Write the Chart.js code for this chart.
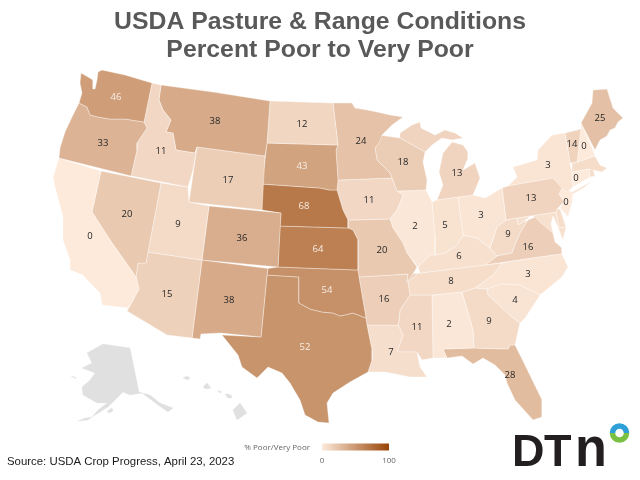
<!DOCTYPE html>
<html>
<head>
<meta charset="utf-8">
<title>USDA Pasture & Range Conditions</title>
<script src="https://cdn.jsdelivr.net/npm/chart.js@4/dist/chart.umd.min.js"></script>
<style>
    html, body { margin: 0; padding: 0; background: #ffffff; }
    canvas { display: block; }
</style>
</head>
<body>
<canvas id="mapChart" width="640" height="480"></canvas>
<script>
// Values, state by state
const states = ['WA','OR','CA','NV','ID','MT','WY','UT','AZ','CO','NM','ND','SD','NE','KS','OK','TX','MN','IA','MO','AR','LA','WI','IL','MI','IN','OH','KY','TN','MS','AL','GA','FL','SC','NC','VA','WV','PA','NY','VT','NH','ME','CT','NJ','MD','DE','MA','RI'];
const percentPoor = [46,33,0,20,11,38,17,9,15,36,38,12,43,68,64,54,52,24,11,20,16,7,18,2,13,5,3,6,8,11,2,9,28,4,3,16,9,13,3,14,0,25,0,0,6,8,8,8];
// these four are shaded on the map but carry no number
const unlabelled = ['MD','DE','MA','RI'];

const titleLines = ['USDA Pasture & Range Conditions', 'Percent Poor to Very Poor'];
const sourceText = 'Source: USDA Crop Progress, April 23, 2023';
const legendTitle = '% Poor/Very Poor';
const legendTicks = [0, 100];

// State outlines, in map units (the x and y scales below run over the same units)
const outlines = {
    WA: [[[81,73],[88,77],[93,80],[93,89],[95,89],[97,80],[98,72],[102,70],[125,75],[152,83],[144,122],[125,119],[110,119],[98,117],[90,115],[87,107],[79,103],[82,93],[80,83]]],
    OR: [[[79,103],[87,107],[90,115],[98,117],[110,119],[125,119],[144,122],[147,128],[137,143],[137,150],[131,176],[59,158],[60,148],[65,132],[72,117]]],
    CA: [[[59,158],[101,171],[92,212],[110,240],[136,277],[139,289],[132,302],[128,308],[102,305],[100,293],[90,283],[83,275],[70,270],[70,260],[63,240],[63,217],[55,187],[53,177]]],
    NV: [[[101,171],[161,183],[148,252],[146,263],[138,263],[136,277],[110,240],[92,212]]],
    ID: [[[152,83],[161,85],[159,100],[163,110],[171,120],[166,132],[173,133],[176,150],[195,153],[197,147],[193,170],[188,187],[131,176],[137,150],[137,143],[147,128],[144,122]]],
    MT: [[[161,85],[213,92],[270,101],[267,143],[265,156],[197,147],[195,153],[176,150],[173,133],[166,132],[171,120],[163,110],[159,100]]],
    WY: [[[197,147],[265,156],[262,210],[189,202]]],
    UT: [[[161,183],[188,187],[189,202],[209,206],[202,260],[148,252]]],
    AZ: [[[148,252],[202,260],[192,338],[167,335],[127,311],[132,302],[139,289],[136,277],[138,263],[146,263]]],
    CO: [[[209,206],[281,213],[278,267],[202,260]]],
    NM: [[[202,260],[268,268.5],[267,275],[261,337],[221,333],[201,334],[200,339],[192,338]]],
    ND: [[[270,101],[333,103],[338,145],[267,143]]],
    SD: [[[267,143],[338,145],[336,150],[338,180],[337,190],[330,190],[320,188],[262,184]]],
    NE: [[[262,184],[320,188],[330,190],[337,190],[343,210],[348,220],[348,228],[280,226],[281,213],[262,210]]],
    KS: [[[280,226],[348,228],[353,230],[358,240],[358,270],[278,267]]],
    OK: [[[268,268.5],[278,267],[358,270],[359,277],[366,318],[353,313],[340,316],[333,313],[322,312],[310,309],[299,303],[299,277],[267,275]]],
    TX: [[[267,275],[299,277],[299,303],[310,309],[322,312],[333,313],[340,316],[353,313],[366,318],[367,325],[372,350],[372,360],[368,372],[350,382],[333,393],[327,403],[329,423],[318,422],[305,415],[300,400],[290,383],[282,373],[268,367],[257,378],[242,367],[238,355],[222,335],[261,337]]],
    MN: [[[333,103],[352,103],[355,108],[367,110],[377,112],[390,115],[403,117],[392,125],[382,135],[379,143],[375,148],[377,160],[390,173],[392,178],[338,180],[336,150],[338,145]]],
    IA: [[[338,180],[392,178],[397,191],[403,195],[397,210],[390,219],[348,220],[343,210],[337,190]]],
    MO: [[[348,220],[390,219],[393,228],[403,243],[407,253],[417,267],[413,274],[407,282],[408,274],[359,277],[358,270],[358,240],[353,230],[348,228]]],
    AR: [[[359,277],[408,274],[407,282],[413,274],[418,273],[408,282],[410,295],[400,310],[399,320],[398,325],[367,325],[366,318]]],
    LA: [[[367,325],[398,325],[403,335],[397,352],[417,352],[420,367],[427,377],[410,377],[400,375],[385,372],[368,372],[372,360],[372,350]]],
    WI: [[[379,135],[400,138],[425,152],[423,162],[427,180],[426,190],[397,191],[392,178],[390,173],[377,160],[375,148],[379,143]]],
    IL: [[[397,191],[426,190],[432,202],[435,237],[435,255],[430,255],[420,265],[418,267],[407,253],[403,243],[393,228],[390,219],[397,210],[403,195]]],
    MI: [[[400,133],[412,125],[420,122],[421,128],[435,135],[445,130],[455,133],[463,138],[452,140],[442,138],[432,145],[425,152],[400,138]],
         [[437,200],[443,185],[439,172],[443,153],[452,142],[463,145],[468,152],[468,158],[463,170],[475,163],[480,178],[473,195],[458,197]]],
    IN: [[[432,202],[437,200],[458,197],[463,235],[457,245],[445,253],[435,255],[435,237]]],
    OH: [[[458,197],[473,195],[485,198],[502,188],[506,220],[497,227],[490,248],[477,238],[463,235]]],
    KY: [[[420,273],[418,267],[420,265],[430,255],[435,255],[445,253],[457,245],[463,235],[477,238],[490,248],[497,256],[485,265]]],
    TN: [[[413,274],[420,273],[485,265],[502,263],[493,275],[475,288],[462,292],[432,295],[410,295],[408,282],[418,273]]],
    MS: [[[410,295],[432,295],[433,358],[422,360],[417,352],[397,352],[403,335],[398,325],[399,320],[400,310]]],
    AL: [[[432,295],[462,292],[473,330],[474,348],[443,349],[447,358],[433,358]]],
    GA: [[[462,292],[475,288],[487,289],[488,295],[513,318],[520,323],[515,345],[510,345],[508,349],[474,348],[473,330]]],
    FL: [[[443,349],[474,348],[508,349],[510,345],[515,345],[525,365],[542,400],[542,417],[533,420],[515,400],[507,383],[505,375],[495,365],[483,358],[473,364],[462,356],[447,358]]],
    SC: [[[487,289],[502,284],[520,285],[540,295],[535,303],[525,318],[520,323],[513,318],[488,295]]],
    NC: [[[502,263],[533,258],[562,254],[568,267],[562,277],[540,295],[520,285],[502,284],[487,289],[475,288],[493,275]]],
    VA: [[[485,265],[497,256],[512,253],[515,245],[520,233],[528,220],[535,217],[540,222],[553,233],[555,242],[562,248],[562,254],[533,258]]],
    WV: [[[490,248],[497,227],[506,220],[517,218],[518,225],[523,222],[528,220],[520,233],[515,245],[512,253],[497,256]]],
    PA: [[[502,188],[508,186],[553,178],[562,188],[559,194],[564,202],[557,209],[556,212],[517,218],[506,220]]],
    NY: [[[508,186],[517,177],[513,167],[537,160],[538,150],[552,135],[565,133],[570,163],[572,172],[573,187],[567,192],[560,187],[553,178]],
         [[572,192],[590,182],[594,179],[585,187],[573,194]]],
    VT: [[[565,133],[581,129],[577,162],[570,163]]],
    NH: [[[581,123],[593,150],[595,156],[577,162],[581,129]]],
    ME: [[[593,90],[607,89],[613,108],[623,118],[618,122],[615,128],[610,130],[607,136],[600,140],[595,150],[581,123],[592,103]]],
    CT: [[[572,172],[589,169],[590,177],[573,187]]],
    NJ: [[[560,187],[573,192],[572,203],[568,217],[560,208],[564,202],[559,194]]],
    MD: [[[517,218],[556,212],[559,228],[566,227],[563,240],[561,235],[557,225],[553,216],[551,224],[553,233],[540,222],[532,215],[523,222],[518,225]]],
    DE: [[[556,212],[557,209],[560,209],[566,227],[559,228]]],
    MA: [[[572,163],[577,162],[595,156],[600,165],[607,168],[602,172],[593,170],[589,169],[572,172]]],
    RI: [[[589,169],[593,169],[595,176],[590,177]]]
};

// Alaska and Hawaii are on the map but have no data, so they stay grey
const insets = [
    [[87,353],[103,344],[130,348],[139,392],[150,395],[160,403],[173,408],[168,412],[158,405],[142,393],[130,395],[123,392],[115,400],[108,407],[92,417],[98,410],[107,403],[97,403],[83,395],[82,387],[90,380],[95,373],[82,368],[92,363]],
    [[78,421],[85,418],[92,417],[88,420]],
    [[107,411],[112,408],[113,411],[109,413]],
    [[71,376],[75,377],[76,379]],
    [[233,410],[240,403],[247,413],[237,420]],
    [[225,394],[228,394],[231,395],[232,398],[228,398]],
    [[217,390],[222,392],[220,393]],
    [[203,387],[207,383],[211,388],[206,389]],
    [[183,378],[187,376],[190,378],[188,380]]
];

// Label anchors in map units
const labelPositions = {
    WA: [116,97], OR: [103,143], CA: [90,236], NV: [127,214], ID: [161,151], MT: [215,121], WY: [228,180],
    UT: [178,224], AZ: [167,294], CO: [242,238], NM: [229,300], ND: [302,124], SD: [302,166], NE: [304,206],
    KS: [318,249], OK: [327,290], TX: [305,347], MN: [361,141], IA: [369,200], MO: [382,250], AR: [384,299],
    LA: [391,352], WI: [403,162], IL: [415,226], MI: [457,173], IN: [445,225], OH: [481,215], KY: [459,256],
    TN: [451,281], MS: [417,327], AL: [449,324], GA: [489,321], FL: [510,375], SC: [515,300], NC: [528,274],
    VA: [528,247], WV: [508,234], PA: [531,198], NY: [548,165], VT: [572,144], NH: [584,146], ME: [600,118],
    CT: [576,178], NJ: [566,202]
};

const lowColor = [253, 234, 219];
const highColor = [152, 68, 6];

function colorFor(value) {
    const t = value / 100;
    const rgb = lowColor.map((low, i) => Math.round(low + (highColor[i] - low) * t));
    return `rgb(${rgb[0]}, ${rgb[1]}, ${rgb[2]})`;
}

function polygonDataset(points, color, borderColor, borderWidth) {
    // repeat the first point so the outline closes
    const closed = points.concat([points[0]]);
    return {
        data: closed.map(p => ({ x: p[0], y: p[1] })),
        showLine: true,
        fill: 'shape',
        tension: 0,
        backgroundColor: color,
        borderColor: borderColor,
        borderWidth: borderWidth,
        borderJoinStyle: 'round',
        pointRadius: 0,
        pointHoverRadius: 0,
        clip: false
    };
}

const datasets = [];
insets.forEach(points => {
    datasets.push(polygonDataset(points, '#e0e0e0', '#e0e0e0', 0.3));
});
states.forEach((state, i) => {
    outlines[state].forEach(points => {
        datasets.push(polygonDataset(points, colorFor(percentPoor[i]), 'rgba(255, 255, 255, 0.5)', 0.7));
    });
});

// Numbers on the states, positioned through the chart scales
const stateLabels = {
    id: 'stateLabels',
    afterDatasetsDraw(chart) {
        const { ctx, scales } = chart;
        ctx.save();
        ctx.font = '9.5px "Open Sans"';
        ctx.textAlign = 'center';
        ctx.textBaseline = 'middle';
        states.forEach((state, i) => {
            if (unlabelled.includes(state)) return;
            const pos = labelPositions[state];
            ctx.fillStyle = percentPoor[i] >= 43 ? '#f6eee6' : '#262626';
            ctx.fillText(String(percentPoor[i]), scales.x.getPixelForValue(pos[0]), scales.y.getPixelForValue(pos[1]));
        });
        ctx.restore();
    }
};

// Colour key, source line and logo
const furniture = {
    id: 'furniture',
    afterDraw(chart) {
        const { ctx } = chart;
        ctx.save();

        const gradient = ctx.createLinearGradient(322, 0, 389, 0);
        gradient.addColorStop(0, colorFor(legendTicks[0]));
        gradient.addColorStop(1, colorFor(legendTicks[1]));
        ctx.fillStyle = gradient;
        ctx.fillRect(322, 443.5, 67, 7);

        ctx.fillStyle = '#666666';
        ctx.font = '8px "Open Sans"';
        ctx.textBaseline = 'middle';
        ctx.textAlign = 'right';
        ctx.fillText(legendTitle, 310, 447.5);
        ctx.textAlign = 'center';
        ctx.fillText(String(legendTicks[0]), 322, 460.5);
        ctx.fillText(String(legendTicks[1]), 389, 460.5);

        ctx.fillStyle = '#1a1a1a';
        ctx.font = '11.4px "Liberation Sans"';
        ctx.textAlign = 'left';
        ctx.textBaseline = 'alphabetic';
        ctx.fillText(sourceText, 7, 465);

        // DTN logo
        ctx.fillStyle = '#231f20';
        ctx.font = 'bold 45px "Liberation Sans"';
        ctx.fillText('D', 512, 465.5);
        ctx.fillText('T', 544, 465.5);
        ctx.save();
        ctx.translate(575, 465.5);
        ctx.scale(1.16, 1.24);
        ctx.fillText('n', 0, 0);
        ctx.restore();

        ctx.lineWidth = 5.5;
        ctx.strokeStyle = '#2f9fd8';
        ctx.beginPath();
        ctx.arc(619.5, 433, 7, Math.PI, 0);
        ctx.stroke();
        ctx.strokeStyle = '#7ac143';
        ctx.beginPath();
        ctx.arc(619.5, 433, 7, 0, Math.PI);
        ctx.stroke();

        ctx.restore();
    }
};

new Chart(document.getElementById('mapChart').getContext('2d'), {
    type: 'scatter',
    data: { datasets: datasets },
    plugins: [stateLabels, furniture],
    options: {
        responsive: false,
        animation: false,
        events: [],
        layout: { padding: 0 },
        plugins: {
            legend: { display: false },
            tooltip: { enabled: false },
            title: {
                display: true,
                text: titleLines,
                color: '#595959',
                font: { family: '"Liberation Sans"', size: 24.8, weight: 'bold', lineHeight: 1.13 },
                padding: { top: 8, bottom: 0 }
            }
        },
        scales: {
            x: { type: 'linear', min: 0, max: 640, display: false },
            y: { type: 'linear', min: 64, max: 480, reverse: true, display: false }
        }
    }
});
</script>
</body>
</html>
